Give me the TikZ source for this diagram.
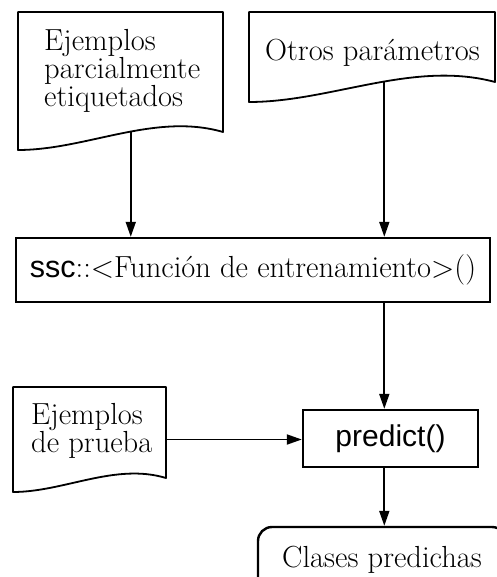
\documentclass[tikz,border=0pt]{standalone}
\usepackage{fontspec}
\setsansfont{Liberation Sans}
\usetikzlibrary{arrows.meta,positioning,calc}
\tikzset{
  docln/.style={line width=1.8pt, line join=round},
  docbox/.style={inner sep=0pt, outer sep=0pt},
  procbox/.style={draw, line width=2.4pt, inner sep=0pt},
  outbox/.style={draw, line width=2.4pt, rounded corners=14pt, inner sep=0pt},
  flow/.style={-{Triangle[length=15pt,width=10pt]}, line width=1.8pt},
  txt/.style={font=\fontsize{30.5}{28}\selectfont, inner sep=0pt},
}
% document outline round a frame node, right corner raised by #2
\newcommand{\docwave}[2]{%
  \draw[docln] (#1.north west) -- (#1.north east) -- ([yshift=#2]#1.south east)
    .. controls ($(#1.south east)!0.333!(#1.south west)+(0pt,2.1*#2)$)
    and ($(#1.south west)!0.333!(#1.south east)$) .. (#1.south west)
    coordinate[pos=0.45] (#1-out) -- cycle;
}

\begin{document}
\begin{tikzpicture}[x=1pt, y=-1pt]
  \useasboundingbox (0,0) rectangle (496,577);
  % inputs
  \node[docbox, minimum width=205pt, minimum height=138pt] (d1) at (120.5,81) {};
  \docwave{d1}{18pt}
  \node[txt, align=left, anchor=north west] (t1) at (44,29)
    {Ejemplos\\parcialmente\\etiquetados};
  \node[docbox, minimum width=246pt, minimum height=90pt] (d2) at (372,57) {};
  \docwave{d2}{20pt}
  \node[txt, anchor=base west] (t2) at (265,61) {Otros parámetros};
  % training call
  \node[procbox, txt, minimum width=474pt, minimum height=64pt] (train) at (253,270)
    {{\sffamily ssc}::<Función de entrenamiento>()};
  % test examples
  \node[docbox, minimum width=153pt, minimum height=105pt] (d3) at (89.5,439.5) {};
  \docwave{d3}{14pt}
  \node[txt, align=left, anchor=north west] (t3) at (31,403)
    {Ejemplos\\de prueba};
  \node[procbox, minimum width=175pt, minimum height=57pt,
    font=\sffamily\fontsize{30}{30}\selectfont] (pred) at (390.5,438.5) {predict()};
  \node[outbox, txt, minimum width=248pt, minimum height=66pt] (res) at (382,560)
    {Clases predichas};
  % connectors
  \draw[flow] (d1-out) -- (d1-out |- train.north);
  \draw[flow] (d2-out) -- (d2-out |- train.north);
  \draw[flow] (train.south -| d2-out) -- (pred.north -| d2-out);
  \draw[flow] (d3.east) -- (d3.east -| pred.west);
  \draw[flow] (pred.south -| d2-out) -- (res.north -| d2-out);
\end{tikzpicture}
\end{document}
